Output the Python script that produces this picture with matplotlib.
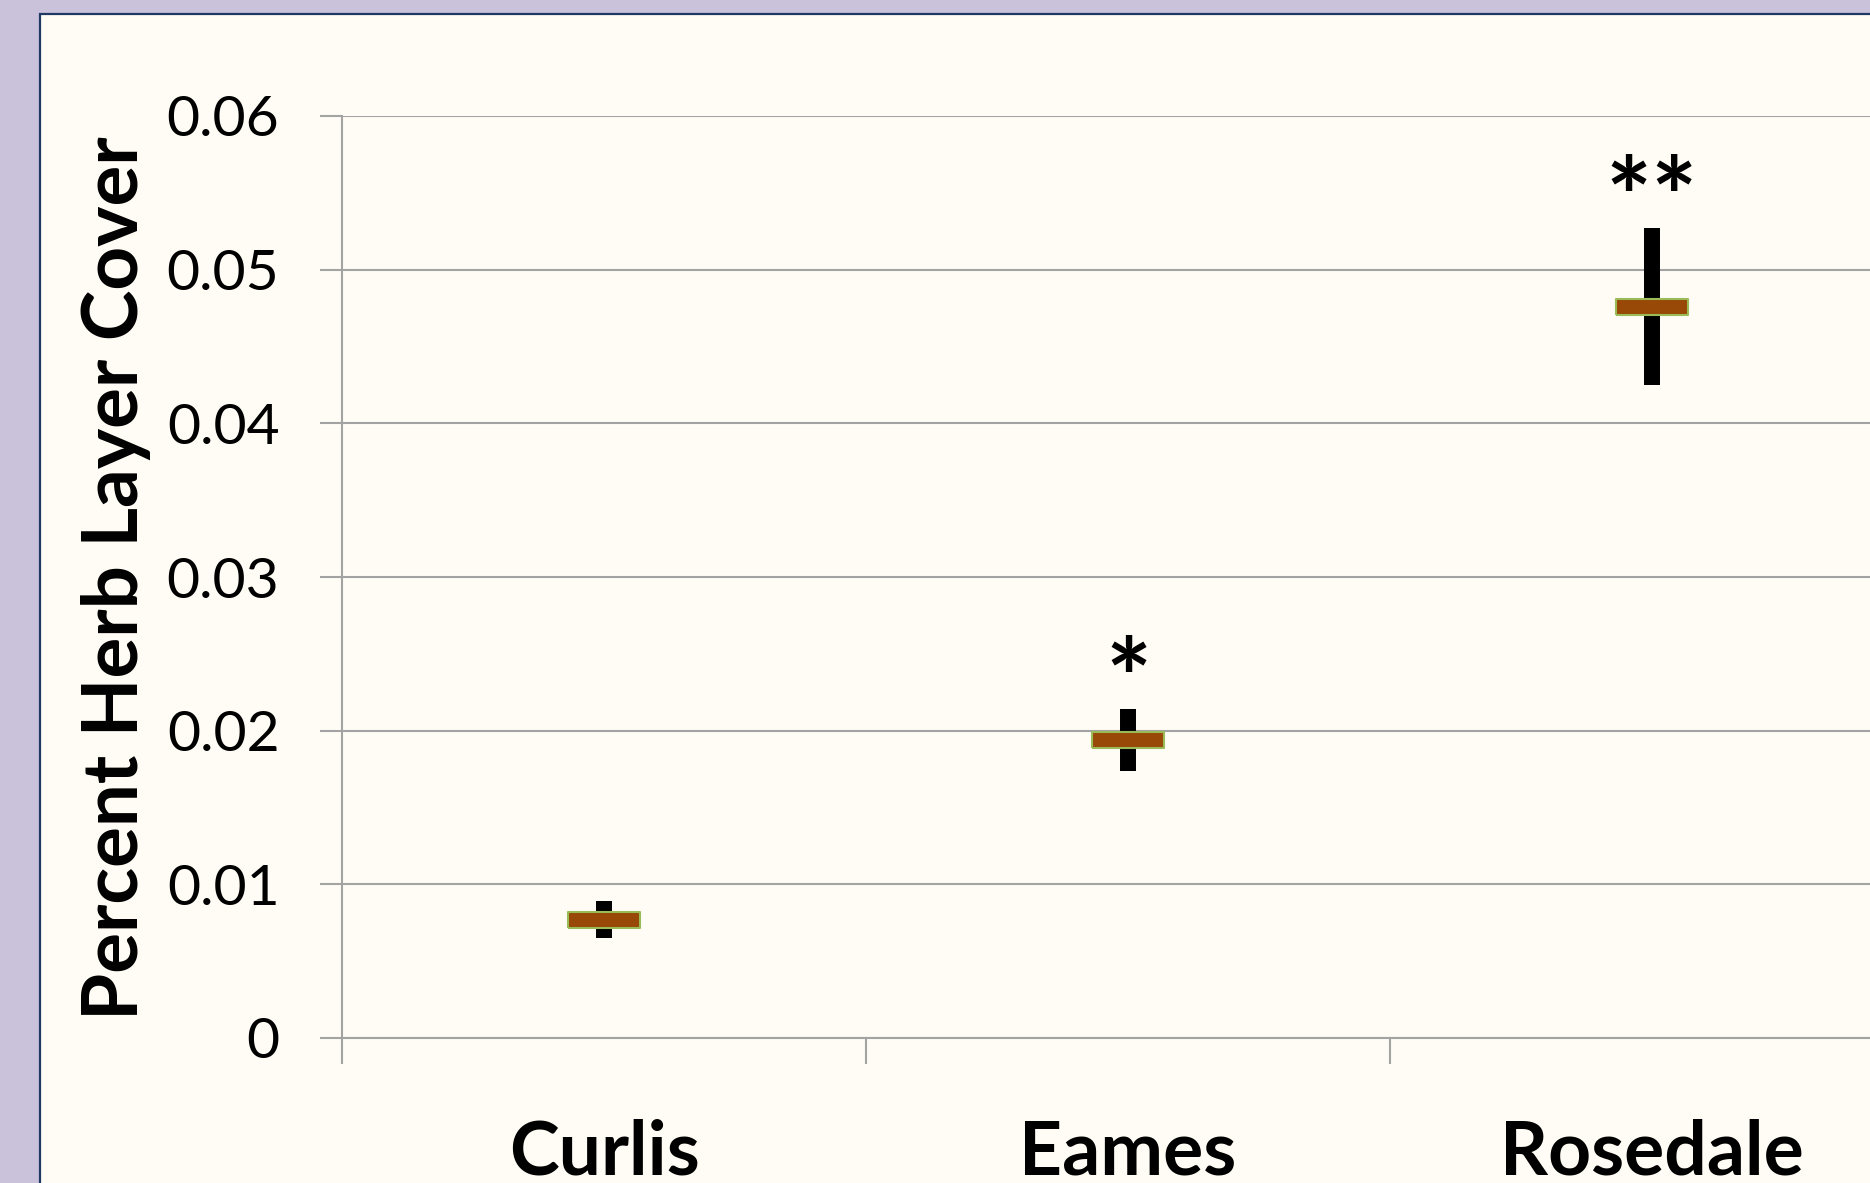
import numpy as np
import matplotlib.pyplot as plt
from matplotlib.patches import Rectangle

plt.rcParams['font.family'] = ['Lato', 'DejaVu Sans']

# herb layer cover by site: mean and half-range of the bar
sites = ['Curlis', 'Eames', 'Rosedale']
mean_cover = [0.0077, 0.0194, 0.0476]
err_cover = [0.0012, 0.0020, 0.0051]
signif = ['', '*', '**']
y_ticks = [0, 0.01, 0.02, 0.03, 0.04, 0.05, 0.06]

W, H = 1870, 1183
fig = plt.figure(figsize=(W / 100, H / 100), dpi=100)
fig.patch.set_facecolor('#CAC1DB')

# cream panel with a navy border, running off the right and bottom
panel = Rectangle((40 / W, -0.1), 1.2, 1 - 14 / H + 0.1, transform=fig.transFigure,
                  facecolor='#FFFCF6', edgecolor='#1F3864', linewidth=1.6, zorder=-1)
fig.patches.append(panel)

ax = fig.add_axes([342 / W, (H - 1038) / H, 1572 / W, (1038 - 116) / H])
ax.set_facecolor('none')

x = np.arange(len(sites))
grid_col = '#A3A3A3'

ax.errorbar(x, mean_cover, yerr=err_cover, fmt='none', ecolor='black',
            elinewidth=11.5, capsize=0, zorder=3)

rect = [(-1, -0.22), (1, -0.22), (1, 0.22), (-1, 0.22), (-1, -0.22)]
ax.plot(x, mean_cover, linestyle='none', marker=rect, markersize=52,
        markerfacecolor='#984807', markeredgecolor='#9BBB59', markeredgewidth=1.5,
        zorder=4)

# significance stars above each bar
for xi, m, e, s in zip(x, mean_cover, err_cover, signif):
    if s:
        ax.text(xi, m + e + 0.0015, s, ha='center', va='center',
                fontsize=78, fontweight='bold', zorder=5)

ax.set_xlim(-0.5, 2.5)
ax.set_ylim(0, 0.06)

ax.set_yticks(y_ticks)
ax.set_yticklabels(['0' if v == 0 else f'{v:.2f}' for v in y_ticks])
ax.tick_params(axis='y', length=16, width=1.5, color=grid_col, labelsize=41, pad=29)

ax.set_xticks(x)
ax.set_xticklabels(sites, fontsize=54, fontweight='bold')
ax.set_xticks([-0.5, 0.5, 1.5, 2.5], minor=True)
ax.tick_params(axis='x', which='major', length=0, pad=58)
ax.tick_params(axis='x', which='minor', length=19, width=1.5, color=grid_col)

ax.yaxis.grid(True, color=grid_col, linewidth=1.5)
ax.set_axisbelow(True)
for side in ['top', 'right']:
    ax.spines[side].set_visible(False)
for side in ['left', 'bottom']:
    ax.spines[side].set_color(grid_col)
    ax.spines[side].set_linewidth(1.5)

fig.text(116 / W, 1 - 578 / H, 'Percent Herb Layer Cover', rotation=90,
         ha='center', va='center', fontsize=55, fontweight='bold')

fig.savefig('out.png', dpi=100, facecolor=fig.get_facecolor())
